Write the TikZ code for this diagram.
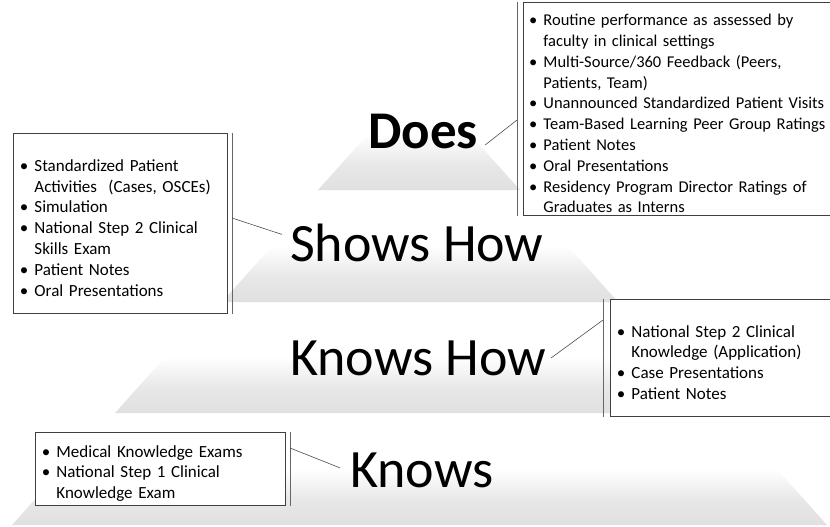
\documentclass[tikz,border=0pt]{standalone}
\usepackage{fontspec}
\setmainfont{Carlito}
\usepackage{enumitem}
\usetikzlibrary{calc}
\definecolor{bandgray}{RGB}{224,224,224}
\definecolor{edgegray}{RGB}{64,64,64}
\pgfdeclareverticalshading{bandfade}{100bp}{color(0bp)=(bandgray); color(25bp)=(bandgray); color(40bp)=(bandgray!75!white); color(58bp)=(white); color(100bp)=(white)}
\newcommand{\bulletlist}[1]{\raggedright\begin{itemize}[nosep,leftmargin=13pt,labelsep=6pt,label=\textbullet]#1\end{itemize}}

\begin{document}
\begin{tikzpicture}[
    x=1pt, y=-1pt,
    band/.style={shading=bandfade},
    listbox/.style={rectangle, draw=edgegray, line width=0.9pt, fill=white, anchor=north west, inner xsep=8pt, inner ysep=0pt, align=left, font=\fontsize{17}{20.8}\selectfont},
    level/.style={anchor=base west, inner sep=0pt, font=\fontsize{54}{60}\selectfont},
    bracket/.style={draw=black!60, line width=1pt},
    leader/.style={draw=black!70, line width=0.6pt}
]
    \useasboundingbox (0,0) rectangle (830,527);

    % Pyramid bands
    \foreach \yb/\xl/\xr in {190/318/520, 302/222/618, 413/115/724, 525/12/827}
        \shade[band] (\xl,\yb) -- (\xr,\yb) -- (\xr-76,\yb-85) -- (\xl+76,\yb-85) -- cycle;

    % Levels
    \node[level, font=\fontsize{53}{60}\selectfont\bfseries] (does) at (368,148) {Does};
    \node[level] (shows) at (290,261) {Shows How};
    \node[level] (knowshow) at (290,375) {Knows How};
    \node[level] (knows) at (350,487) {Knows};

    % Assessment boxes
    \node[listbox, text width=340pt, minimum height=213pt, inner xsep=7pt, font=\fontsize{16.5}{20.8}\selectfont] (doesbox) at (523,2) {\bulletlist{
        \item Routine performance as assessed by\newline faculty in clinical settings
        \item Multi-Source/360 Feedback (Peers,\newline Patients, Team)
        \item Unannounced Standardized Patient Visits
        \item Team-Based Learning Peer Group Ratings
        \item Patient Notes
        \item Oral Presentations
        \item Residency Program Director Ratings of\newline Graduates as Interns}};
    \node[listbox, text width=198pt, minimum height=180pt] (showsbox) at (13,133) {\bulletlist{
        \item Standardized Patient\newline Activities\ \ (Cases, OSCEs)
        \item Simulation
        \item National Step 2 Clinical\newline Skills Exam
        \item Patient Notes
        \item Oral Presentations}};
    \node[listbox, text width=240pt, minimum height=117pt] (knowshowbox) at (610,299) {\bulletlist{
        \item National Step 2 Clinical\newline Knowledge (Application)
        \item Case Presentations
        \item Patient Notes}};
    \node[listbox, text width=234pt, minimum height=73pt] (knowsbox) at (35,432) {\bulletlist{
        \item Medical Knowledge Exams
        \item National Step 1 Clinical\newline Knowledge Exam}};

    % Brackets
    \draw[bracket] ([xshift=-6pt]doesbox.north west) -- ([xshift=-6pt]doesbox.south west);
    \draw[bracket] ([xshift=5pt]showsbox.north east) -- ([xshift=5pt]showsbox.south east);
    \draw[bracket] ([xshift=-7pt]knowshowbox.north west) -- ([xshift=-7pt]knowshowbox.south west);
    \draw[bracket] ([xshift=5pt]knowsbox.north east) -- ([xshift=5pt]knowsbox.south east);

    % Leaders
    \coordinate (doestip) at (517,120);
    \coordinate (showstip) at (232,218);
    \coordinate (knowshowtip) at (603,320);
    \coordinate (knowstip) at (290,448);
    \draw[leader] ($(does.east)+(7,14)$) -- (doestip);
    \draw[leader] ($(shows.west)+(-8,-8)$) -- (showstip);
    \draw[leader] ($(knowshow.east)+(5,0)$) -- (knowshowtip);
    \draw[leader] ($(knows.west)+(-10,-2)$) -- (knowstip);
\end{tikzpicture}
\end{document}
